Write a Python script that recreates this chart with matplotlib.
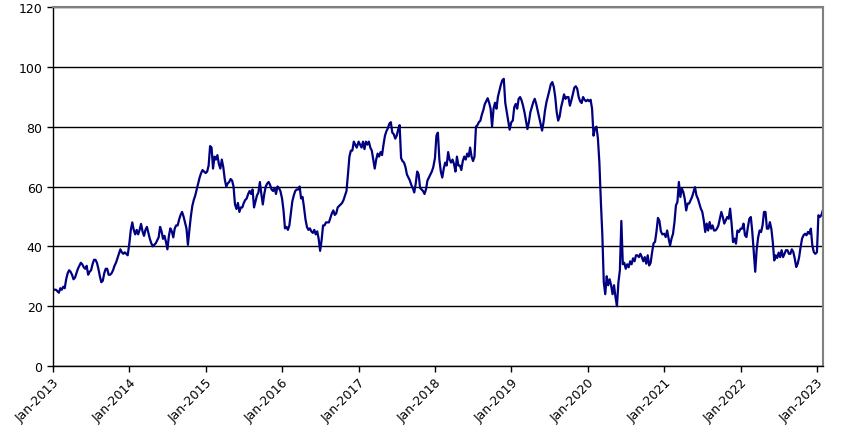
import matplotlib
matplotlib.use("Agg")
import matplotlib.pyplot as plt
import matplotlib.dates as mdates
import pandas as pd

# weekly values, one list per calendar year
v2013 = [25.5, 25.5, 25.5, 25, 24.5, 26, 25.5, 26.5, 26, 29, 31, 32, 31.5, 30.5, 29, 29.5,
         31, 32.5, 33.5, 34.5, 34, 33, 32.5, 33.5, 30.5, 31.5, 32, 34, 35.5, 35.5, 34.5, 32.5,
         30, 28, 28.5, 31, 32.5, 32.5, 30.5, 30.5, 31, 32, 33.5, 34.5, 36, 37.5, 39, 38,
         37.5, 38, 37.5, 37]
v2014 = [41, 45.5, 48, 45.5, 44, 45.5, 44, 45.5, 47.5, 45, 43.5, 45.5, 46.5, 44.5, 42.5, 41,
         40, 40.5, 41, 42, 43, 46.5, 45, 42.5, 43.5, 41.5, 39, 43.5, 46, 45, 43, 46,
         47, 47, 49, 50.5, 51.5, 50, 48, 46, 40.5, 45.5, 50, 53.5, 55.5, 57, 59, 61,
         63, 64.5, 65.5, 65]
v2015 = [64.5, 65, 67, 73.5, 73, 66, 70, 69, 70.5, 67.5, 66, 69, 66.5, 62.5, 60, 61,
         61.5, 62.5, 62, 60, 54, 52.5, 54.5, 51.5, 53, 53, 54.5, 55.5, 56, 57.5, 58.5, 57.5,
         59, 53, 55, 57, 58, 61.5, 57.5, 54, 57.5, 60, 61, 61.5, 60.5, 59, 58.5, 59.5,
         57.5, 60, 59.5, 58.5]
v2016 = [56, 52, 46, 46.5, 45.5, 47, 51, 55, 57, 58.5, 59, 59, 60, 56, 56.5, 53,
         49, 46.5, 45.5, 46, 45, 44.5, 45.5, 44, 45, 42.5, 38.5, 42, 47, 47, 48, 48,
         48, 49.5, 51, 52, 50.5, 51, 53, 53.5, 54, 54.5, 55.5, 57, 58.5, 64, 70, 72,
         72, 75, 74, 73]
v2017 = [75, 74, 73, 75, 72.5, 75, 74, 75, 73, 72, 69, 66, 69, 71, 70, 71.5,
         70.5, 74, 77, 78.5, 79.5, 81, 81.5, 78, 77.5, 76, 77, 79, 80.5, 69.5, 68.5, 68,
         66.5, 64, 63, 62, 60.5, 59.5, 58, 61, 65, 64, 59.5, 59, 58.5, 57.5, 59, 62,
         63, 64, 65, 66.5]
v2018 = [69.5, 77, 78, 69, 65, 63, 66, 68, 67, 71.5, 69, 68, 69, 67.5, 65, 70,
         67, 67, 65.5, 68.5, 70, 69, 71, 70, 73, 70, 68.5, 70, 80, 80.5, 81.5, 82,
         84, 85.5, 87.5, 88.5, 89.5, 88, 86, 80, 86, 88, 86, 90, 92, 94, 95.5, 96,
         88, 85, 82, 79]
v2019 = [81.5, 82, 86.5, 87.6, 86, 89.3, 89.9, 88.8, 87, 84.8, 82, 79.2, 81.5, 84.8, 86.5, 88.2,
         89.3, 87.6, 85.4, 83.1, 80.9, 78.7, 81.5, 85.4, 88.2, 90.1, 92.1, 94.2, 94.9, 93.3, 89.9, 84.8,
         82, 83.4, 86.5, 88.5, 90.8, 89.3, 89.9, 89.9, 87, 88.8, 90.8, 93, 93.5, 92.7, 89.9, 88.5,
         87.9, 89.9, 89, 88.5]
v2020 = [89, 88.5, 89, 86, 77, 79.5, 80, 76, 68, 55, 44, 28, 24, 30, 27, 29,
         27, 24, 27, 23, 20, 28, 32, 48.5, 34, 34.5, 32.5, 34, 33, 35, 34, 36,
         35, 37, 37, 36.4, 37.5, 36.4, 35, 36.4, 34.2, 37, 33.6, 34.5, 38, 41, 41.5, 45,
         49.5, 48.5, 45, 44]
v2021 = [44.2, 43.1, 45.3, 42.6, 40.3, 42.6, 44.2, 48.1, 53.7, 54.8, 61.5, 56.5, 59.3, 58.2, 55.9, 52,
         54.3, 54.3, 55.4, 56.5, 58.2, 59.8, 57, 55.9, 54.3, 52.6, 51.5, 48.7, 44.8, 47.6, 45.3, 48.1,
         45.9, 47, 45.3, 45.3, 45.9, 47, 49.2, 51.5, 49.8, 47.6, 48.7, 49.8, 49.2, 52.6, 47.6, 41.4,
         42.6, 40.9, 45.3, 44.8]
v2022 = [45.9, 45.9, 47.6, 43.7, 43.1, 46.5, 49.2, 49.8, 44.8, 38, 31.5, 39, 43, 45.3, 44.8, 47,
         51.5, 51.5, 45.9, 45.9, 48.1, 45.9, 41.4, 35.3, 37, 36.1, 37.9, 36.4, 38.7, 36.4, 37.5, 38.7,
         38.7, 37.5, 37.5, 39, 38.1, 35.9, 33.1, 34.2, 36.4, 39.8, 42.6, 43.7, 44.2, 43.7, 44.8, 44.2,
         45.9, 40.3, 38.1, 37.5]
v2023 = [38, 50.4, 49.8, 50.4, 52]

years = [2013, 2014, 2015, 2016, 2017, 2018, 2019, 2020, 2021, 2022, 2023]
series = [v2013, v2014, v2015, v2016, v2017, v2018, v2019, v2020, v2021, v2022, v2023]
tick_labels = ["Jan-2013", "Jan-2014", "Jan-2015", "Jan-2016", "Jan-2017", "Jan-2018",
               "Jan-2019", "Jan-2020", "Jan-2021", "Jan-2022", "Jan-2023"]
y_ticks = [0, 20, 40, 60, 80, 100, 120]

dates, values = [], []
for yr, vals in zip(years, series):
    start = pd.Timestamp(f"{yr}-01-01")
    for i, v in enumerate(vals):
        dates.append(start + pd.Timedelta(days=7 * i))
        values.append(v)

fig = plt.figure(figsize=(8.48, 4.39), dpi=100)
ax = fig.add_axes([53 / 848, 1 - 367 / 439, (823 - 53) / 848, (367 - 8) / 439])

ax.plot(dates, values, color="#000080", lw=1.6, solid_joinstyle="round")

ax.set_ylim(0, 120)
ax.set_yticks(y_ticks)
ax.set_xlim(pd.Timestamp("2013-01-01"), pd.Timestamp("2023-01-30"))
ax.set_xticks([pd.Timestamp(f"{y}-01-01") for y in years])
ax.set_xticklabels(tick_labels, rotation=45, ha="right", rotation_mode="anchor")

ax.grid(axis="y", color="black", lw=1.0)
ax.set_axisbelow(True)
for s in ["left", "bottom"]:
    ax.spines[s].set_color("black")
    ax.spines[s].set_linewidth(1.0)
for s in ["top", "right"]:
    ax.spines[s].set_color("#808080")
    ax.spines[s].set_linewidth(1.5)
ax.tick_params(axis="both", direction="out", length=4, width=1, color="black",
               labelsize=9, labelcolor="black")
ax.tick_params(axis="x", pad=3)

fig.savefig("out.png", dpi=100)
